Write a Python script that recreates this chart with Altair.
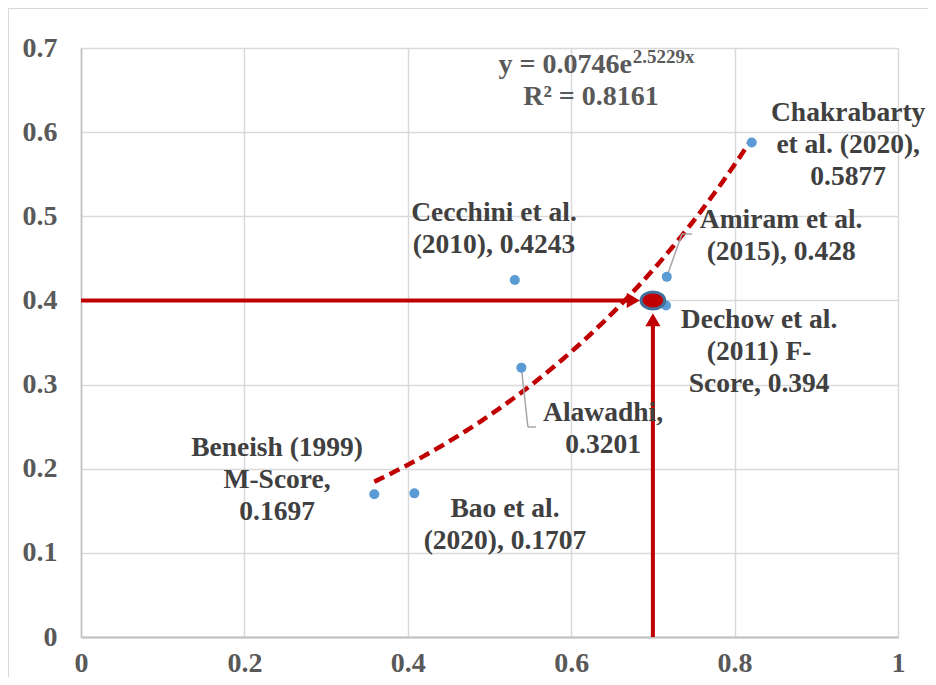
import altair as alt
import pandas as pd

# ---- data ----
studies = ["Beneish (1999) M-Score", "Bao et al. (2020)", "Cecchini et al. (2010)",
           "Alawadhi", "Amiram et al. (2015)", "Dechow et al. (2011) F-Score",
           "Chakrabarty et al. (2020)"]
x_vals = [0.359, 0.408, 0.531, 0.539, 0.717, 0.716, 0.821]
y_vals = [0.1697, 0.1707, 0.4243, 0.3201, 0.428, 0.394, 0.5877]

label_text = ["Beneish (1999)\nM-Score,\n0.1697", "Bao et al.\n(2020), 0.1707",
              "Cecchini et al.\n(2010), 0.4243", "Alawadhi,\n0.3201",
              "Amiram et al.\n(2015), 0.428", "Dechow et al.\n(2011) F-\nScore, 0.394",
              "Chakrabarty\net al. (2020),\n0.5877"]
# anchor of the first text line of each label
label_x = [0.240, 0.519, 0.5055, 0.639, 0.857, 0.830, 0.939]
label_y = [0.2246, 0.1521, 0.5039, 0.2662, 0.4956, 0.3768, 0.6228]

# exponential trendline y = a * e^(b x), shown on the chart
trend_a = 0.0746
trend_b = 2.5229
trend_r2 = 0.8161
trend_x_start = 0.359
trend_x_end = 0.822

# target marker and arrows
target_x = 0.7
target_y = 0.4
arrow_h_end = 0.676
arrow_v_end = 0.377

# leader lines (label -> point)
leader_x = [0.717, 0.7356, 0.539, 0.547]
leader_y = [0.428, 0.479, 0.3201, 0.2496]
leader_x2 = [0.7356, 0.748, 0.547, 0.557]
leader_y2 = [0.479, 0.479, 0.2496, 0.2496]

x_ticks = [0, 0.2, 0.4, 0.6, 0.8, 1]
y_ticks = [0, 0.1, 0.2, 0.3, 0.4, 0.5, 0.6, 0.7]

FONT = "Liberation Serif"
RED = "#C00000"
BLUE = "#5B9BD5"
TXT = "#404040"

pts = pd.DataFrame({"study": studies, "x": x_vals, "y": y_vals})
labels = pd.DataFrame({"text": label_text, "x": label_x, "y": label_y})
leaders = pd.DataFrame({"x": leader_x, "y": leader_y, "x2": leader_x2, "y2": leader_y2})

xs = alt.Scale(domain=[0, 1], nice=False, zero=False)
ys = alt.Scale(domain=[0, 0.7], nice=False, zero=False)

xax = alt.Axis(values=x_ticks, format="~g", title=None, grid=True, gridColor="#D9D9D9",
               gridWidth=1.5, domainColor="#BFBFBF", domainWidth=2, ticks=False,
               labelFont=FONT, labelFontSize=28, labelFontWeight="bold",
               labelColor="#595959", labelPadding=12, labelFlush=False)
yax = alt.Axis(values=y_ticks, format="~g", title=None, grid=True, gridColor="#D9D9D9",
               gridWidth=1.5, domainColor="#BFBFBF", domainWidth=1.5, ticks=False,
               labelFont=FONT, labelFontSize=28, labelFontWeight="bold",
               labelColor="#595959", labelPadding=24, labelFlush=False)

points = alt.Chart(pts).mark_point(filled=True, size=100, color=BLUE, opacity=1).encode(
    x=alt.X("x:Q", scale=xs, axis=xax),
    y=alt.Y("y:Q", scale=ys, axis=yax),
)

trend = alt.Chart(alt.sequence(trend_x_start, trend_x_end + 0.0001, 0.004, as_="x")).transform_calculate(
    y=f"{trend_a} * exp({trend_b} * datum.x)"
).mark_line(color=RED, strokeWidth=4.5, strokeDash=[11, 6]).encode(
    x=alt.X("x:Q", scale=xs), y=alt.Y("y:Q", scale=ys)
)

tgt = pd.DataFrame({"x": [target_x], "y": [target_y], "hx": [arrow_h_end], "vy": [arrow_v_end],
                    "zero": [0.0]})

h_arrow = alt.Chart(tgt).mark_rule(color=RED, strokeWidth=4).encode(
    x=alt.X("zero:Q", scale=xs), x2="hx:Q", y=alt.Y("y:Q", scale=ys))
v_arrow = alt.Chart(tgt).mark_rule(color=RED, strokeWidth=4).encode(
    x=alt.X("x:Q", scale=xs), y=alt.Y("zero:Q", scale=ys), y2="vy:Q")
h_head = alt.Chart(tgt).mark_point(shape="triangle-right", filled=True, size=230, color=RED,
                                   opacity=1).encode(
    x=alt.X("hx:Q", scale=xs), y=alt.Y("y:Q", scale=ys))
v_head = alt.Chart(tgt).mark_point(shape="triangle-up", filled=True, size=230, color=RED,
                                   opacity=1).encode(
    x=alt.X("x:Q", scale=xs), y=alt.Y("vy:Q", scale=ys))

ellipse_path = "M-1,0 A1,0.72 0 1,0 1,0 A1,0.72 0 1,0 -1,0 Z"
target_mark = alt.Chart(tgt).mark_point(shape=ellipse_path, filled=True, size=560, fill=RED,
                                        stroke="#41719C", strokeWidth=3, opacity=1,
                                        fillOpacity=1).encode(
    x=alt.X("x:Q", scale=xs), y=alt.Y("y:Q", scale=ys))

leader = alt.Chart(leaders).mark_rule(color="#A6A6A6", strokeWidth=1.5).encode(
    x=alt.X("x:Q", scale=xs), y=alt.Y("y:Q", scale=ys), x2="x2:Q", y2="y2:Q")

lbl = alt.Chart(labels).mark_text(font=FONT, fontSize=27.5, fontWeight="bold", color=TXT,
                                  align="center", baseline="middle", lineBreak="\n",
                                  lineHeight=32).encode(
    x=alt.X("x:Q", scale=xs), y=alt.Y("y:Q", scale=ys), text="text:N")

eq = pd.DataFrame({"x": [0.6744], "y": [0.6703], "sx": [0.6754], "sy": [0.6822],
                   "rx": [0.6242], "ry": [0.6323],
                   "main": [f"y = {trend_a}e"], "sup": [f"{trend_b}x"],
                   "r2": [f"R² = {trend_r2}"]})
eq_main = alt.Chart(eq).mark_text(font=FONT, fontSize=28, fontWeight="bold", color="#595959",
                                  align="right", baseline="alphabetic").encode(
    x=alt.X("x:Q", scale=xs), y=alt.Y("y:Q", scale=ys), text="main:N")
eq_sup = alt.Chart(eq).mark_text(font=FONT, fontSize=19, fontWeight="bold", color="#595959",
                                 align="left", baseline="alphabetic").encode(
    x=alt.X("sx:Q", scale=xs), y=alt.Y("sy:Q", scale=ys), text="sup:N")
eq_r2 = alt.Chart(eq).mark_text(font=FONT, fontSize=28, fontWeight="bold", color="#595959",
                                align="center", baseline="alphabetic").encode(
    x=alt.X("rx:Q", scale=xs), y=alt.Y("ry:Q", scale=ys), text="r2:N")

frame_left = alt.Chart(tgt).mark_rule(color="#D9D9D9", strokeWidth=2).encode(
    x=alt.value(-73), y=alt.value(-40), y2=alt.value(640))
frame_top = alt.Chart(tgt).mark_rule(color="#D9D9D9", strokeWidth=2).encode(
    x=alt.value(-73), x2=alt.value(900), y=alt.value(-40))

chart = alt.layer(
    frame_left, frame_top, trend, leader, points, h_arrow, v_arrow, h_head, v_head,
    target_mark, lbl, eq_main, eq_sup, eq_r2
).properties(
    width=817, height=589,
    autosize=alt.AutoSizeParams(type="none"),
    padding={"left": 73, "top": 40, "right": 30, "bottom": 40},
).configure_view(stroke=None).configure(background="white")

chart.save("out.html", embed_options={"renderer": "svg", "actions": False})
